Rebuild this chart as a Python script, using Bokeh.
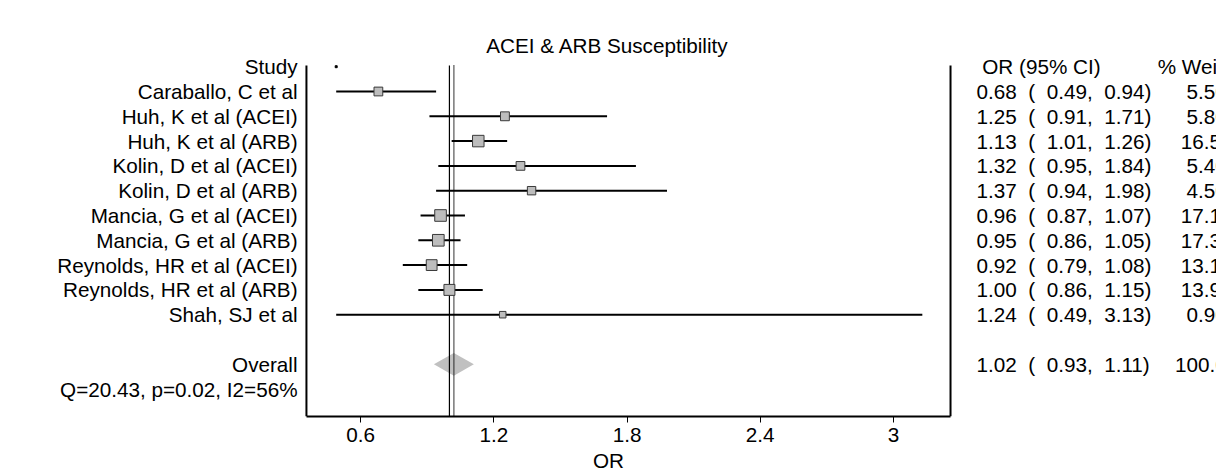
from bokeh.plotting import figure
from bokeh.models import Range1d, LinearAxis, FixedTicker
from bokeh.embed import file_html
from bokeh.resources import INLINE
from bokeh.core.properties import value
import numpy as np

# ---------------- data ----------------
title_text = "ACEI & ARB Susceptibility"
studies = ["Caraballo, C et al", "Huh, K et al (ACEI)", "Huh, K et al (ARB)",
           "Kolin, D et al (ACEI)", "Kolin, D et al (ARB)", "Mancia, G et al (ACEI)",
           "Mancia, G et al (ARB)", "Reynolds, HR et al (ACEI)", "Reynolds, HR et al (ARB)",
           "Shah, SJ et al"]
or_est = [0.68, 1.25, 1.13, 1.32, 1.37, 0.96, 0.95, 0.92, 1.00, 1.24]
ci_lo = [0.49, 0.91, 1.01, 0.95, 0.94, 0.87, 0.86, 0.79, 0.86, 0.49]
ci_hi = [0.94, 1.71, 1.26, 1.84, 1.98, 1.07, 1.05, 1.08, 1.15, 3.13]
weights = [5.50, 5.80, 16.50, 5.40, 4.50, 17.10, 17.30, 13.10, 13.90, 0.90]
overall_label = "Overall"
overall_est, overall_lo, overall_hi = 1.02, 0.93, 1.11
overall_weight = 100.00
het_text = "Q=20.43, p=0.02, I2=56%"
col_study = "Study"
col_or = "OR (95% CI)"
col_weight = "% Weight"
x_label = "OR"
tick_values = [0.6, 1.2, 1.8, 2.4, 3.0]
tick_labels = ["0.6", "1.2", "1.8", "2.4", "3"]
null_value = 1.0

# ---------------- layout constants ----------------
FONT = value("Liberation Sans")
FS = "20.7px"
NB = "\u00a0"
AX_LO, AX_HI = 0.356, 3.257          # plot-region bounds in OR units
LABEL_X = 0.316                      # right edge of study labels
ORCOL_X = 3.374                      # left edge of OR (95% CI) column
WCOL_X = 4.190                       # left edge of weight column
TOP_R = -0.05
BOT_R = 14.105

n = len(studies)
rows = list(range(1, n + 1))
overall_row = n + 2
het_row = n + 3

p = figure(frame_width=1216, frame_height=416,
           x_range=Range1d(-1.022, 4.455), y_range=Range1d(BOT_R, -2.669),
           output_backend="svg", toolbar_location=None, min_border=0,
           x_axis_type=None, y_axis_type=None)
p.outline_line_color = None
p.grid.visible = False
p.background_fill_color = "white"
p.border_fill_color = "white"

xaxis = LinearAxis(bounds=(AX_LO, AX_HI),
                   ticker=FixedTicker(ticks=tick_values, minor_ticks=[]),
                   major_label_overrides={v: l for v, l in zip(tick_values, tick_labels)},
                   axis_label=x_label)
xaxis.axis_line_width = 2
xaxis.axis_line_color = "black"
xaxis.major_tick_out = 6
xaxis.major_tick_in = 0
xaxis.major_tick_line_width = 1
xaxis.major_label_text_font = "Liberation Sans"
xaxis.major_label_text_font_size = FS
xaxis.major_label_text_color = "black"
xaxis.major_label_standoff = 5
xaxis.axis_label_text_font = "Liberation Sans"
xaxis.axis_label_text_font_size = FS
xaxis.axis_label_text_font_style = "normal"
xaxis.axis_label_text_color = "black"
xaxis.axis_label_standoff = 4
p.add_layout(xaxis, "below")

# plot region side lines
p.segment(x0=[AX_LO, AX_HI], x1=[AX_LO, AX_HI], y0=[TOP_R, TOP_R], y1=[BOT_R, BOT_R],
          line_color="black", line_width=2)

# overall diamond
dh = 0.46
p.patch(x=[overall_lo, overall_est, overall_hi, overall_est],
        y=[overall_row, overall_row - dh, overall_row, overall_row + dh],
        fill_color="#c0c0c0", line_color=None)

# null line and overall dotted line
p.segment(x0=[null_value], x1=[null_value], y0=[TOP_R], y1=[BOT_R], line_color="black", line_width=1.2)
p.segment(x0=[overall_est], x1=[overall_est], y0=[TOP_R], y1=[BOT_R], line_color="black",
          line_width=1.6, line_dash="1 1")

# CIs
p.segment(x0=ci_lo, x1=ci_hi, y0=rows, y1=rows, line_color="black", line_width=2)

# weight boxes
sides = [5.0 + 1.6 * np.sqrt(w) for w in weights]
p.rect(x=or_est, y=rows, width=sides, height=sides, width_units="screen", height_units="screen",
       fill_color="#bdbdbd", line_color="#3a3a3a", line_width=1)

# tiny artifact dot in header row
p.scatter(x=[min(ci_lo)], y=[0], size=2, marker="square", color="black")

# left labels
left_texts = [col_study] + studies + [overall_label, het_text]
left_rows = [0] + rows + [overall_row, het_row]
p.text(x=[LABEL_X] * len(left_texts), y=left_rows, text=left_texts, text_align="right",
       text_baseline="middle", text_font=FONT, text_font_size=FS, text_color="black")

# OR column
def fmt_ci(e, lo, hi):
    return f"{e:.2f}{NB*2}({NB*2}{lo:.2f},{NB*2}{hi:.2f})"

or_texts = [NB + col_or] + [fmt_ci(e, l, h) for e, l, h in zip(or_est, ci_lo, ci_hi)] + \
           [fmt_ci(overall_est, overall_lo, overall_hi)]
or_rows = [0] + rows + [overall_row]
p.text(x=[ORCOL_X] * len(or_texts), y=or_rows, text=or_texts, text_align="left",
       text_baseline="middle", text_font=FONT, text_font_size=FS, text_color="black")

# weight column
w_texts = [col_weight] + [f"{w:9.2f}".replace(" ", NB) for w in weights] + \
          [f"{overall_weight:9.2f}".replace(" ", NB)]
p.text(x=[WCOL_X] * len(w_texts), y=or_rows, text=w_texts, text_align="left",
       text_baseline="middle", text_font=FONT, text_font_size=FS, text_color="black")

# title
p.text(x=[1.712], y=[-0.855], text=[title_text], text_align="center", text_baseline="middle",
       text_font=FONT, text_font_size=FS, text_color="black")

open("out.html", "w").write(file_html(p, INLINE))
